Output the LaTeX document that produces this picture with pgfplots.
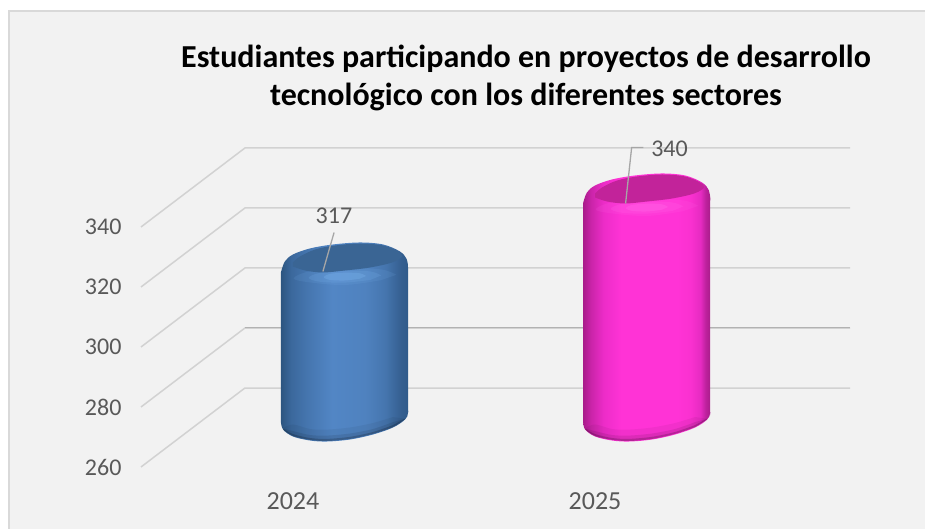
\documentclass[border=0pt]{standalone}
\usepackage{fontspec}
\setmainfont{Carlito}
\usepackage{pgfplots}
\pgfplotsset{compat=1.18}
\definecolor{bgc}{HTML}{F2F2F2}
\definecolor{framec}{HTML}{D9D9D9}
\definecolor{gridc}{HTML}{D2D2D2}
\definecolor{txtc}{HTML}{595959}
\definecolor{leadc}{HTML}{A6A6A6}
\definecolor{blueface}{HTML}{3A6594}
\definecolor{magface}{HTML}{C2239A}
\definecolor{ba}{HTML}{2C5580}
\definecolor{bb}{HTML}{3B689C}
\definecolor{bc}{HTML}{4575AE}
\definecolor{bd}{HTML}{5286C5}
\definecolor{be}{HTML}{4F82BF}
\definecolor{bf}{HTML}{355F90}
\definecolor{bg}{HTML}{2F5A8A}
\definecolor{bj}{HTML}{7DB6F0}
\definecolor{ma}{HTML}{A81C8A}
\definecolor{mb}{HTML}{C924A8}
\definecolor{mc}{HTML}{EC2CC8}
\definecolor{md}{HTML}{FF33D6}
\definecolor{me}{HTML}{FA31D0}
\definecolor{mf}{HTML}{E62BC2}
\definecolor{mg}{HTML}{BE229E}
\definecolor{mj}{HTML}{FF70EA}
\pgfdeclarehorizontalshading{bluebody}{100bp}{
 color(0bp)=(ba);color(25bp)=(ba);color(29bp)=(bb);color(35bp)=(bc);
 color(45bp)=(bd);color(58bp)=(be);color(66bp)=(bc);color(72bp)=(bf);color(75bp)=(bg);color(100bp)=(bg)}
\pgfdeclarehorizontalshading{magbody}{100bp}{
 color(0bp)=(ma);color(25bp)=(ma);color(28bp)=(mb);color(33bp)=(mc);
 color(40bp)=(md);color(62bp)=(md);color(67bp)=(me);color(71bp)=(mf);color(73bp)=(mg);color(75bp)=(ma);color(100bp)=(ma)}
\begin{document}
\begin{tikzpicture}[x=1pt,y=1pt]
\fill[white] (0,0) rectangle (925,529);
\filldraw[fill=bgc,draw=framec,line width=1.5pt] (9,-2) rectangle (927,518);
\begin{axis}[
  at={(141pt,62pt)},anchor=south west,
  width=709pt,height=319pt,scale only axis,
  xmin=-0.503,xmax=1.844,ymin=260,ymax=366.33,
  clip=false,
  axis line style={draw=none},
  major tick style={draw=none},
  minor tick style={draw=none},
  xtick={0,1},xticklabels={2024,2025},
  ytick={260,280,300,320,340},
  /pgf/number format/assume math mode=true,
  /pgf/number format/1000 sep={},
  x tick label style={yshift=-22pt,font=\fontsize{26}{28}\selectfont,text=txtc},
  y tick label style={xshift=-16pt,font=\fontsize{24}{26}\selectfont,text=txtc},
  title={Estudiantes participando en proyectos de desarrollo\\tecnológico con los diferentes sectores},
  title style={at={(axis description cs:0.543,1)},anchor=south,align=center,yshift=28pt,
    font=\bfseries\fontsize{32}{38}\selectfont,text=black},
]
% walls
\addplot[gridc,line width=1.5pt,sharp plot] coordinates {(-0.503,340)(-0.159,366.33)(1.844,366.33)};
\addplot[gridc,line width=1.5pt,sharp plot] coordinates {(-0.503,320)(-0.159,346.33)(1.844,346.33)};
\addplot[gridc,line width=1.5pt,sharp plot] coordinates {(-0.503,300)(-0.159,326.33)(1.844,326.33)};
\addplot[gridc,line width=1.5pt,sharp plot] coordinates {(-0.503,280)(-0.159,306.33)(1.844,306.33)};
\addplot[gridc,line width=1.5pt,sharp plot] coordinates {(-0.503,260)(-0.159,286.33)(1.844,286.33)};
\addplot[black!30,line width=0.5pt,sharp plot] coordinates {(-0.159,306.6)(1.844,306.6)};

\pgfplotsset{cyl/.style={draw=none,mark=none,smooth,tension=0.55,xshift=52pt,yshift=33.5pt},
  shd/.style={draw=none,mark=none,smooth,tension=0.5,xshift=52pt,yshift=33.5pt,fill=black}}
% blue body
\addplot[cyl,shading=bluebody] coordinates {
(-0.212,313.67)(-0.199,317.33)(-0.172,319.67)(-0.116,321.67)(-0.040,323)(0.050,323.67)(0.126,323)(0.182,320.67)(0.205,318)(0.209,314.67)(0.209,310)
(0.209,272)(0.209,267)(0.199,264.67)(0.159,262)(0.093,259.67)(0.017,258)(-0.060,257.33)(-0.116,257.67)(-0.172,259)(-0.205,261.33)(-0.212,264)} -- cycle;
% blue bottom shade
\addplot[shd,opacity=0.05] coordinates {(0.199,264.9)(0.159,262.2)(0.093,259.9)(0.017,258.2)(-0.060,257.5)(-0.116,257.9)(-0.172,259.2)(-0.205,261.5)(-0.172,263)(-0.116,261.5)(-0.060,261.3)(0.017,262)(0.093,263.5)(0.159,265.5)} -- cycle;
\addplot[shd,opacity=0.09] coordinates {(0.199,264.9)(0.159,262.2)(0.093,259.9)(0.017,258.2)(-0.060,257.5)(-0.116,257.9)(-0.172,259.2)(-0.205,261.5)(-0.172,260.8)(-0.116,259.5)(-0.060,259.3)(0.017,260)(0.093,261.5)(0.159,263.8)} -- cycle;
\addplot[shd,opacity=0.18] coordinates {(0.199,264.9)(0.159,262.2)(0.093,259.9)(0.017,258.2)(-0.060,257.5)(-0.116,257.9)(-0.172,259.2)(-0.205,261.5)(-0.172,259.8)(-0.116,258.5)(-0.060,258.2)(0.017,258.9)(0.093,260.5)(0.159,262.8)} -- cycle;
% blue highlight
\addplot[cyl,fill=bj,opacity=0.12] coordinates {(.17,312.9)(.119,314.7)(0,315.1)(-.119,314)(-.17,311.7)(-.119,310.4)(0,309.5)(.119,311.1)} -- cycle;
\addplot[cyl,fill=bj,opacity=0.18] coordinates {(.12,312.7)(.084,314)(0,314.3)(-.084,313.5)(-.12,311.9)(-.084,310.6)(0,310.3)(.084,311.2)} -- cycle;
\addplot[cyl,fill=bj,opacity=0.3] coordinates {(.07,312.5)(.049,313.4)(0,313.6)(-.049,313.2)(-.07,312.1)(-.049,311.2)(0,311)(.049,311.6)} -- cycle;
% blue top face
\addplot[cyl,fill=blueface] coordinates {
(-0.172,317)(-0.149,319)(-0.099,321.33)(-0.033,322.67)(0.050,323.33)(0.126,322.67)(0.175,320.67)(0.189,319)(0.156,317)(0.083,315.33)(0,314.33)(-0.073,313.67)(-0.132,314.33)(-0.172,315.67)} -- cycle;

% magenta body
\addplot[cyl,shading=magbody] coordinates {
(0.788,336.67)(0.801,340.33)(0.828,342.67)(0.884,344.67)(0.960,346)(1.050,346.67)(1.126,346)(1.182,343.67)(1.205,341)(1.209,337.67)(1.209,333)
(1.209,272)(1.209,267)(1.199,264.67)(1.159,262)(1.093,259.67)(1.017,258)(0.940,257.33)(0.884,257.67)(0.828,259)(0.795,261.33)(0.788,264)} -- cycle;
\addplot[shd,opacity=0.05] coordinates {(1.199,264.9)(1.159,262.2)(1.093,259.9)(1.017,258.2)(0.940,257.5)(0.884,257.9)(0.828,259.2)(0.795,261.5)(0.828,263)(0.884,261.5)(0.940,261.3)(1.017,262)(1.093,263.5)(1.159,265.5)} -- cycle;
\addplot[shd,opacity=0.09] coordinates {(1.199,264.9)(1.159,262.2)(1.093,259.9)(1.017,258.2)(0.940,257.5)(0.884,257.9)(0.828,259.2)(0.795,261.5)(0.828,260.8)(0.884,259.5)(0.940,259.3)(1.017,260)(1.093,261.5)(1.159,263.8)} -- cycle;
\addplot[shd,opacity=0.18] coordinates {(1.199,264.9)(1.159,262.2)(1.093,259.9)(1.017,258.2)(0.940,257.5)(0.884,257.9)(0.828,259.2)(0.795,261.5)(0.828,259.8)(0.884,258.5)(0.940,258.2)(1.017,258.9)(1.093,260.5)(1.159,262.8)} -- cycle;
\addplot[cyl,fill=mj,opacity=0.12] coordinates {(1.17,335.9)(1.119,337.7)(1,338.1)(.881,337)(.83,334.7)(.881,333.4)(1,332.5)(1.119,334.1)} -- cycle;
\addplot[cyl,fill=mj,opacity=0.18] coordinates {(1.12,335.7)(1.084,337)(1,337.3)(.916,336.5)(.88,334.9)(.916,333.6)(1,333.3)(1.084,334.2)} -- cycle;
\addplot[cyl,fill=mj,opacity=0.3] coordinates {(1.07,335.5)(1.049,336.4)(1,336.6)(.951,336.2)(.93,335.1)(.951,334.2)(1,334)(1.049,334.6)} -- cycle;
\addplot[cyl,fill=magface] coordinates {
(0.828,340)(0.851,342)(0.901,344.33)(0.967,345.67)(1.050,346.33)(1.126,345.67)(1.175,343.67)(1.189,342)(1.156,340)(1.083,338.33)(1,337.33)(0.927,336.67)(0.868,337.33)(0.828,338.67)} -- cycle;

% leader lines
\addplot[leadc,line width=1.3pt,sharp plot,mark=none,xshift=52pt,yshift=33.5pt] coordinates {(-0.073,314)(-0.036,327)};
\addplot[leadc,line width=1.3pt,sharp plot,mark=none,xshift=52pt,yshift=33.5pt] coordinates {(0.929,336.67)(0.949,355.33)(0.988,355.33)};
% values
\addplot[draw=none,mark=none,xshift=52pt,yshift=33.5pt,point meta=y,nodes near coords,
  every node near coord/.append style={anchor=center,xshift=-11pt,yshift=47pt,text=txtc,font=\fontsize{24}{26}\selectfont}] coordinates {(0,317)};
\addplot[draw=none,mark=none,xshift=52pt,yshift=33.5pt,point meta=y,nodes near coords,
  every node near coord/.append style={anchor=center,xshift=22.5pt,yshift=45pt,text=txtc,font=\fontsize{24}{26}\selectfont}] coordinates {(1,340)};
\end{axis}
\pgfresetboundingbox
\path[use as bounding box] (0,0) rectangle (925,529);
\end{tikzpicture}
\end{document}
